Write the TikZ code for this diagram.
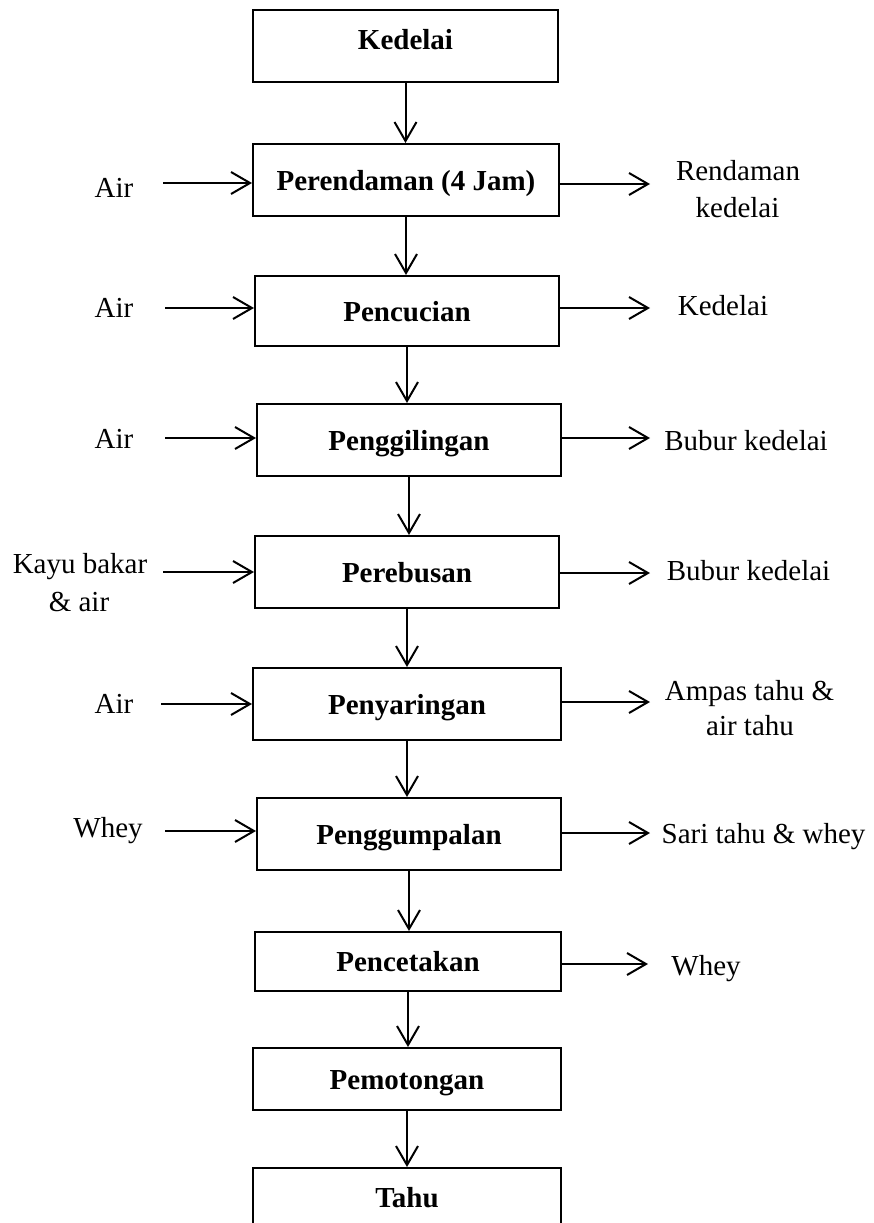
\documentclass[tikz,border=0pt]{standalone}
\usepackage{fontspec}
\setmainfont{Liberation Serif}
\usetikzlibrary{arrows.meta}
\begin{document}
\begin{tikzpicture}[x=1pt,y=-1pt,
  box/.style={draw,line width=2pt,minimum width=304pt,minimum height=72pt,inner sep=0pt,
    font=\fontsize{29}{34}\selectfont\bfseries,text height=20pt,text depth=0pt},
  lbl/.style={anchor=base,inner sep=0pt,font=\fontsize{29}{34}\selectfont},
  arr/.style={line width=2pt,-{Straight Barb[length=19pt,width=22pt]}}]
\useasboundingbox (0,0) rectangle (873,1223);

% process boxes
\node[box,minimum width=305pt,text depth=14pt] (k1) at (405.5,46) {Kedelai};
\node[box,minimum width=306pt] (p2) at (406,180) {Perendaman (4 Jam)};
\node[box,minimum height=70pt] (p3) at (407,311) {Pencucian};
\node[box] (p4) at (409,440) {Penggilingan};
\node[box] (p5) at (407,572) {Perebusan};
\node[box,minimum width=308pt] (p6) at (407,704) {Penyaringan};
\node[box] (p7) at (409,834) {Penggumpalan};
\node[box,minimum width=306pt,minimum height=59pt] (p8) at (408,961.5) {Pencetakan};
\node[box,minimum width=308pt,minimum height=62pt] (p9) at (407,1079) {Pemotongan};
\node[box,minimum width=308pt,minimum height=62pt,text depth=4pt] (p10) at (407,1199) {Tahu};

% main flow
\draw[arr] (k1.south) -- (k1.south |- p2.north);
\draw[arr] (p2.south) -- (p2.south |- p3.north);
\draw[arr] (p3.south) -- (p3.south |- p4.north);
\draw[arr] (p4.south) -- (p4.south |- p5.north);
\draw[arr] (p5.south) -- (p5.south |- p6.north);
\draw[arr] (p6.south) -- (p6.south |- p7.north);
\draw[arr] (p7.south) -- (p7.south |- p8.north);
\draw[arr] (p8.south) -- (p8.south |- p9.north);
\draw[arr] (p9.south) -- (p9.south |- p10.north);

% inputs (left)
\node[lbl] (l2) at (114,197) {Air};
\node[lbl] (l3) at (114,317) {Air};
\node[lbl] (l4) at (114,448) {Air};
\node[lbl] (l5a) at (80,573) {Kayu bakar};
\node[lbl] (l5b) at (79,611) {\& air};
\node[lbl] (l6) at (114,713) {Air};
\node[lbl] (l7) at (108,837) {Whey};

\coordinate (i2) at (163,183);
\coordinate (i3) at (165,308);
\coordinate (i4) at (165,438);
\coordinate (i5) at (163,572);
\coordinate (i6) at (161,704);
\coordinate (i7) at (165,831);
\draw[arr] (i2) -- (i2 -| p2.west);
\draw[arr] (i3) -- (i3 -| p3.west);
\draw[arr] (i4) -- (i4 -| p4.west);
\draw[arr] (i5) -- (i5 -| p5.west);
\draw[arr] (i6) -- (i6 -| p6.west);
\draw[arr] (i7) -- (i7 -| p7.west);

% outputs (right)
\node[lbl] (r2a) at (738,180) {Rendaman};
\node[lbl] (r2b) at (737.5,217) {kedelai};
\node[lbl] (r3) at (723,315) {Kedelai};
\node[lbl] (r4) at (746,450) {Bubur kedelai};
\node[lbl] (r5) at (748.5,580) {Bubur kedelai};
\node[lbl] (r6a) at (749.5,700) {Ampas tahu \&};
\node[lbl] (r6b) at (750,735) {air tahu};
\node[lbl] (r7) at (763.5,843) {Sari tahu \& whey};
\node[lbl] (r8) at (706,975) {Whey};

\coordinate (o2) at (650,184);
\coordinate (o3) at (650,308);
\coordinate (o4) at (650,438);
\coordinate (o5) at (650,573);
\coordinate (o6) at (650,702);
\coordinate (o7) at (650,833);
\coordinate (o8) at (648,964);
\draw[arr] (o2 -| p2.east) -- (o2);
\draw[arr] (o3 -| p3.east) -- (o3);
\draw[arr] (o4 -| p4.east) -- (o4);
\draw[arr] (o5 -| p5.east) -- (o5);
\draw[arr] (o6 -| p6.east) -- (o6);
\draw[arr] (o7 -| p7.east) -- (o7);
\draw[arr] (o8 -| p8.east) -- (o8);
\end{tikzpicture}
\end{document}
